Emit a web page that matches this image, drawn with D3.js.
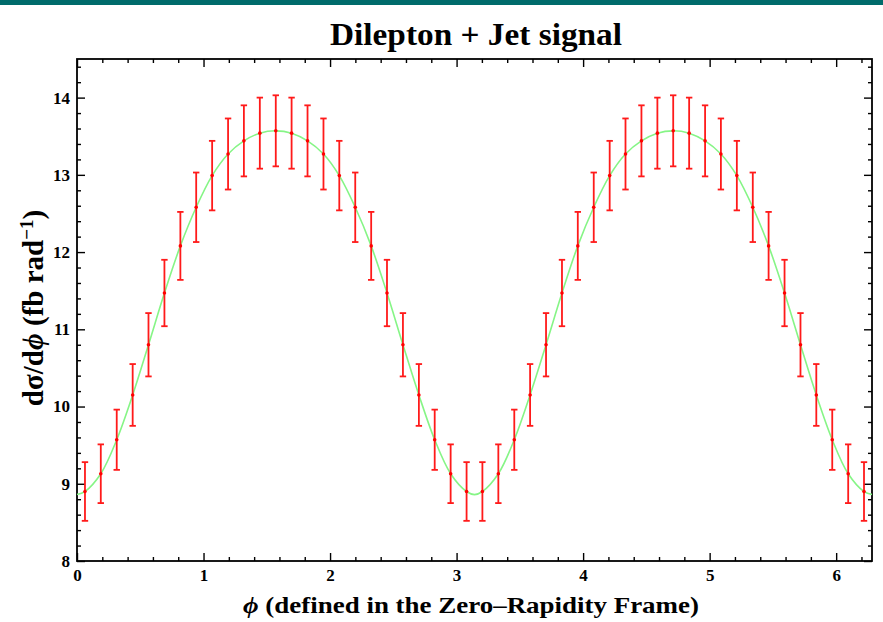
<!DOCTYPE html>
<html>
<head>
<meta charset="utf-8">
<script src="https://cdnjs.cloudflare.com/ajax/libs/d3/7.8.5/d3.min.js"></script>
<style>
  html, body { margin: 0; padding: 0; background: #fff; }
  svg { display: block; }
  text { font-family: "Liberation Serif", "Times New Roman", serif; font-weight: bold; fill: #000; }
</style>
</head>
<body>
<script>
// ---- data ----
const phiValues = [0.063, 0.188, 0.314, 0.440, 0.565, 0.691, 0.817, 0.942, 1.068, 1.194,
  1.319, 1.445, 1.571, 1.696, 1.822, 1.948, 2.073, 2.199, 2.325, 2.450,
  2.576, 2.702, 2.827, 2.953, 3.079, 3.204, 3.330, 3.456, 3.581, 3.707,
  3.833, 3.958, 4.084, 4.210, 4.335, 4.461, 4.587, 4.712, 4.838, 4.964,
  5.089, 5.215, 5.341, 5.466, 5.592, 5.718, 5.843, 5.969, 6.095, 6.220];
const sigmaValues = [8.90, 9.13, 9.57, 10.15, 10.80, 11.47, 12.08, 12.58, 12.99, 13.27,
  13.44, 13.54, 13.57, 13.54, 13.44, 13.27, 12.99, 12.58, 12.08, 11.47,
  10.80, 10.15, 9.57, 9.13, 8.90, 8.90, 9.13, 9.57, 10.15, 10.80,
  11.47, 12.08, 12.58, 12.99, 13.27, 13.44, 13.54, 13.57, 13.54, 13.44,
  13.27, 12.99, 12.58, 12.08, 11.47, 10.80, 10.15, 9.57, 9.13, 8.90];
const errorValues = [0.38, 0.38, 0.39, 0.40, 0.41, 0.43, 0.44, 0.45, 0.45, 0.46,
  0.46, 0.46, 0.46, 0.46, 0.46, 0.46, 0.45, 0.45, 0.44, 0.43,
  0.41, 0.40, 0.39, 0.38, 0.38, 0.38, 0.38, 0.39, 0.40, 0.41,
  0.43, 0.44, 0.45, 0.45, 0.46, 0.46, 0.46, 0.46, 0.46, 0.46,
  0.46, 0.45, 0.45, 0.44, 0.43, 0.41, 0.40, 0.39, 0.38, 0.38];
// fitted curve (green): data points plus the troughs read at 0, pi, 2pi
const fitTroughPhi = [0, 3.1416, 6.2832];
const fitTroughValue = [8.86, 8.86, 8.86];

const xMajorTicks = [0, 1, 2, 3, 4, 5, 6];
const yMajorTicks = [8, 9, 10, 11, 12, 13, 14];
const xDomain = [0, 6.2832];
const yDomain = [8, 14.5];

const titleText = "Dilepton + Jet signal";
const xLabelText = " (defined in the Zero\u2013Rapidity Frame)";

// ---- layout ----
const W = 883, H = 622;
const mLeft = 77, mRight = 872, mTop = 59, mBottom = 561;

const svg = d3.select("body").append("svg").attr("width", W).attr("height", H);

// teal banner at top
svg.append("rect").attr("x", 0).attr("y", 0).attr("width", W).attr("height", 5).attr("fill", "#006b6b");

const x = d3.scaleLinear().domain(xDomain).range([mLeft, mRight]);
const y = d3.scaleLinear().domain(yDomain).range([mBottom, mTop]);

const xMinor = d3.range(0, 6.3, 0.2).filter(v => Math.abs(v - Math.round(v)) > 1e-6);
const yMinor = d3.range(8, 14.5, 0.2).filter(v => Math.abs(v - Math.round(v)) > 1e-6);

function styleAxis(g) {
  g.select(".domain").remove();
  g.selectAll("line").attr("stroke", "#000").attr("stroke-width", 1.4);
  g.selectAll("text").style("font-size", "17px").style("font-family", "'Liberation Serif', serif").style("font-weight", "bold");
}

// bottom
svg.append("g").attr("transform", `translate(0,${mBottom})`)
  .call(d3.axisBottom(x).tickValues(xMajorTicks).tickSizeInner(-8).tickSizeOuter(0).tickPadding(8).tickFormat(d3.format("d")))
  .call(styleAxis);
svg.append("g").attr("transform", `translate(0,${mBottom})`)
  .call(d3.axisBottom(x).tickValues(xMinor).tickSizeInner(-4).tickSizeOuter(0).tickFormat(""))
  .call(styleAxis);
// top
svg.append("g").attr("transform", `translate(0,${mTop})`)
  .call(d3.axisTop(x).tickValues(xMajorTicks).tickSizeInner(-8).tickSizeOuter(0).tickFormat(""))
  .call(styleAxis);
svg.append("g").attr("transform", `translate(0,${mTop})`)
  .call(d3.axisTop(x).tickValues(xMinor).tickSizeInner(-4).tickSizeOuter(0).tickFormat(""))
  .call(styleAxis);
// left
svg.append("g").attr("transform", `translate(${mLeft},0)`)
  .call(d3.axisLeft(y).tickValues(yMajorTicks).tickSizeInner(-8).tickSizeOuter(0).tickPadding(7).tickFormat(d3.format("d")))
  .call(styleAxis);
svg.append("g").attr("transform", `translate(${mLeft},0)`)
  .call(d3.axisLeft(y).tickValues(yMinor).tickSizeInner(-4).tickSizeOuter(0).tickFormat(""))
  .call(styleAxis);
// right
svg.append("g").attr("transform", `translate(${mRight},0)`)
  .call(d3.axisRight(y).tickValues(yMajorTicks).tickSizeInner(-8).tickSizeOuter(0).tickFormat(""))
  .call(styleAxis);
svg.append("g").attr("transform", `translate(${mRight},0)`)
  .call(d3.axisRight(y).tickValues(yMinor).tickSizeInner(-4).tickSizeOuter(0).tickFormat(""))
  .call(styleAxis);

// frame
svg.append("rect").attr("x", mLeft).attr("y", mTop).attr("width", mRight - mLeft).attr("height", mBottom - mTop)
  .attr("fill", "none").attr("stroke", "#000").attr("stroke-width", 1.8);

// fit curve
const fitPts = phiValues.map((p, i) => [p, sigmaValues[i]])
  .concat(fitTroughPhi.map((p, i) => [p, fitTroughValue[i]]))
  .sort((a, b) => a[0] - b[0]);
svg.append("path").datum(fitPts)
  .attr("d", d3.line().x(d => x(d[0])).y(d => y(d[1])).curve(d3.curveCatmullRom.alpha(0.5)))
  .attr("fill", "none").attr("stroke", "#86f586").attr("stroke-width", 1.6);

// error bars
const pts = phiValues.map((p, i) => ({ p, v: sigmaValues[i], e: errorValues[i] }));
const eb = svg.append("g").attr("stroke", "#ff1a1a").attr("stroke-width", 1.8);
eb.selectAll("line.v").data(pts).join("line").attr("class", "v")
  .attr("x1", d => x(d.p)).attr("x2", d => x(d.p))
  .attr("y1", d => y(d.v - d.e)).attr("y2", d => y(d.v + d.e));
eb.selectAll("line.t").data(pts).join("line").attr("class", "t")
  .attr("x1", d => x(d.p) - 3.2).attr("x2", d => x(d.p) + 3.2)
  .attr("y1", d => y(d.v + d.e)).attr("y2", d => y(d.v + d.e));
eb.selectAll("line.b").data(pts).join("line").attr("class", "b")
  .attr("x1", d => x(d.p) - 3.2).attr("x2", d => x(d.p) + 3.2)
  .attr("y1", d => y(d.v - d.e)).attr("y2", d => y(d.v - d.e));
svg.append("g").selectAll("circle").data(pts).join("circle")
  .attr("cx", d => x(d.p)).attr("cy", d => y(d.v)).attr("r", 1.8).attr("fill", "#ff0000");

// title
svg.append("text").attr("x", 476).attr("y", 45).attr("text-anchor", "middle")
  .style("font-size", "31px").attr("textLength", 292).attr("lengthAdjust", "spacingAndGlyphs")
  .text(titleText);

// x label
const xl = svg.append("text").attr("x", 471).attr("y", 613).attr("text-anchor", "middle")
  .style("font-size", "23px").attr("textLength", 456).attr("lengthAdjust", "spacingAndGlyphs");
xl.append("tspan").style("font-style", "italic").text("\u03D5");
xl.append("tspan").text(xLabelText);

// y label
const yl = svg.append("text").attr("transform", "translate(43,308) rotate(-90)").attr("text-anchor", "middle")
  .style("font-size", "29px");
yl.append("tspan").text("d\u03C3/d");
yl.append("tspan").style("font-style", "italic").text("\u03D5");
yl.append("tspan").text(" (fb rad");
yl.append("tspan").attr("dy", "-0.55em").style("font-size", "19px").text("\u22121");
yl.append("tspan").attr("dy", "0.36em").text(")");
</script>
</body>
</html>
